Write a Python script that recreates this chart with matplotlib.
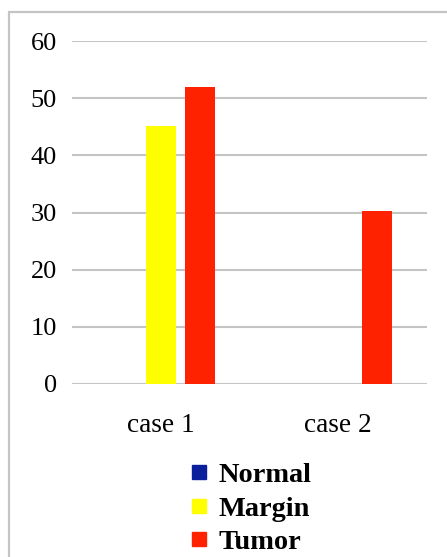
import matplotlib
matplotlib.use("Agg")
import matplotlib.pyplot as plt
import numpy as np
from matplotlib.lines import Line2D
from matplotlib.patches import Rectangle

cases = ["case 1", "case 2"]
series = ["Normal", "Margin", "Tumor"]
normal = [0, 0]
margin = [45.2, 0]
tumor = [51.9, 30.2]
colors = ["#0A1F9C", "#FFFF00", "#FF2200"]
yticks = [0, 10, 20, 30, 40, 50, 60]

W, H = 447, 557
plt.rcParams["font.family"] = ["Liberation Serif", "DejaVu Serif"]
fig = plt.figure(figsize=(W / 100, H / 100), dpi=100)

# outer frame (left and top edges only show)
fig.patches.append(Rectangle((8.5 / W, -0.05), 1.2, (H - 11.5) / H + 0.05,
                             transform=fig.transFigure, fill=False,
                             edgecolor="#C4C4C4", linewidth=1.6))

ax = fig.add_axes([72 / W, (H - 384) / H, (427 - 72) / W, (384 - 41) / H])
x = np.arange(len(cases))
offsets = [-0.22, 0.0, 0.22]
width = 0.169
for vals, off, c in zip([normal, margin, tumor], offsets, colors):
    ax.bar(x + off, vals, width=width, color=c, zorder=3)

ax.set_xlim(-0.5, 1.5)
ax.set_ylim(0, 60)
ax.set_yticks(yticks)
ax.set_xticks(x)
ax.set_xticklabels(cases, fontsize=19.6)
ax.tick_params(axis="y", labelsize=18.9, length=0, pad=10.8)
ax.tick_params(axis="x", length=0, pad=21)
ax.grid(axis="y", color="#C4C4C4", linewidth=1.5, zorder=0)
for s in ax.spines.values():
    s.set_visible(False)

handles = [Line2D([], [], marker="s", linestyle="none", markersize=10.5,
                  markerfacecolor=c, markeredgecolor=c) for c in colors]
fig.legend(handles, series, loc="upper left", bbox_to_anchor=(190.5 / W, 1 - 462 / H),
           frameon=False, handlelength=0.6, handletextpad=0.4, labelspacing=0.28,
           prop={"family": "Liberation Serif", "weight": "bold", "size": 20.4},
           borderaxespad=0, borderpad=0)

fig.savefig("out.png", dpi=100, facecolor="white")
